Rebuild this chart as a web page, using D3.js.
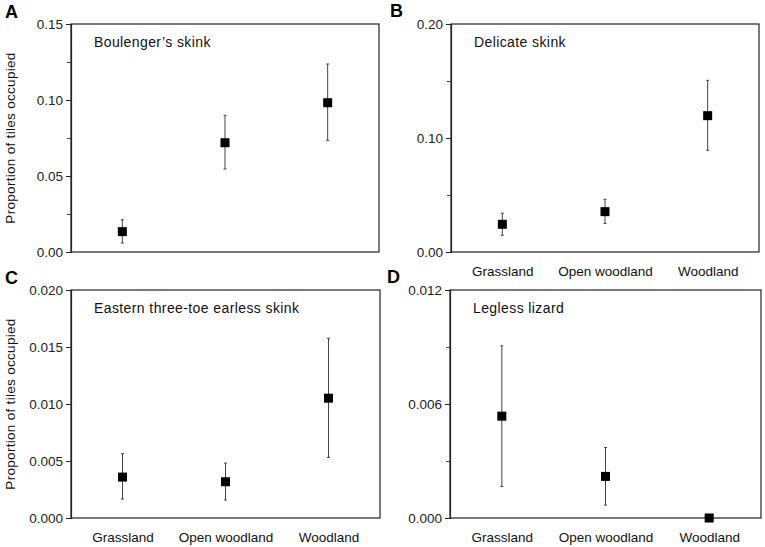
<!DOCTYPE html>
<html><head><meta charset="utf-8">
<script src="https://cdn.jsdelivr.net/npm/d3@7"></script>
<style>body{margin:0;background:#fff}svg{display:block}</style>
</head><body>
<script>
const categories = ["Grassland", "Open woodland", "Woodland"];
const panelLetters = ["A", "B", "C", "D"];
const speciesNames = ["Boulenger\u2019s skink", "Delicate skink", "Eastern three-toe earless skink", "Legless lizard"];
const meanA = [0.0134, 0.0719, 0.0982];
const lowA  = [0.0059, 0.0546, 0.0735];
const highA = [0.0212, 0.0899, 0.1237];
const meanB = [0.0243, 0.0354, 0.1196];
const lowB  = [0.0146, 0.0251, 0.0892];
const highB = [0.0340, 0.0462, 0.1506];
const meanC = [0.00359, 0.00318, 0.01051];
const lowC  = [0.00166, 0.00158, 0.00531];
const highC = [0.00564, 0.00482, 0.01577];
const meanD = [0.00536, 0.00219, 0.0];
const lowD  = [0.00166, 0.00068, 0.0];
const highD = [0.00906, 0.00371, 0.0];
const yMaxes = [0.15, 0.20, 0.020, 0.012];
const majorTicksA = [0, 0.05, 0.10, 0.15];
const majorTicksB = [0, 0.10, 0.20];
const majorTicksC = [0, 0.005, 0.010, 0.015, 0.020];
const majorTicksD = [0, 0.006, 0.012];
const minorTicksA = [0.025, 0.075, 0.125];
const minorTicksB = [0.05, 0.15];
const minorTicksC = [];
const minorTicksD = [0.003, 0.009];
const tickFormats = [".2f", ".2f", ".3f", ".3f"];
const yTitle = "Proportion of tiles occupied";

const panels = [
  {mean: meanA, low: lowA, high: highA, major: majorTicksA, minor: minorTicksA, x0: 71, x1: 379, y0: 24, y1: 252, showX: false, showTitle: true, lx: 5, ly: 18},
  {mean: meanB, low: lowB, high: highB, major: majorTicksB, minor: minorTicksB, x0: 451, x1: 759, y0: 24, y1: 252, showX: true, showTitle: false, lx: 390, ly: 17},
  {mean: meanC, low: lowC, high: highC, major: majorTicksC, minor: minorTicksC, x0: 71, x1: 380, y0: 290, y1: 518, showX: true, showTitle: true, lx: 5, ly: 284},
  {mean: meanD, low: lowD, high: highD, major: majorTicksD, minor: minorTicksD, x0: 450, x1: 761, y0: 290, y1: 518, showX: true, showTitle: false, lx: 387, ly: 283}
];

const svg = d3.select("body").append("svg").attr("width", 765).attr("height", 547)
  .style("font-family", "Arial, 'Liberation Sans', sans-serif");

panels.forEach((p, i) => {
  const x = d3.scalePoint().domain(categories).range([p.x0, p.x1]).padding(0.5);
  const y = d3.scaleLinear().domain([0, yMaxes[i]]).range([p.y1, p.y0]);
  const g = svg.append("g");

  // frame
  g.append("rect").attr("x", p.x0).attr("y", p.y0).attr("width", p.x1 - p.x0).attr("height", p.y1 - p.y0)
    .attr("fill", "none").attr("stroke", "#222").attr("stroke-width", 1.2);

  // y axis
  const ax = g.append("g").attr("transform", `translate(${p.x0},0)`)
    .call(d3.axisLeft(y).tickValues(p.major).tickFormat(d3.format(tickFormats[i])).tickSize(5).tickPadding(3));
  ax.select(".domain").attr("stroke", "#222").attr("stroke-width", 1.2);
  ax.selectAll(".tick line").attr("stroke", "#222");
  ax.selectAll(".tick text").attr("font-size", 13.5).attr("fill", "#222").attr("font-family", "Arial, 'Liberation Sans', sans-serif");
  const mx = g.append("g").attr("transform", `translate(${p.x0},0)`)
    .call(d3.axisLeft(y).tickValues(p.minor).tickFormat("").tickSize(4));
  mx.select(".domain").remove();
  mx.selectAll(".tick line").attr("stroke", "#444");

  // x labels
  if (p.showX) {
    const xa = g.append("g").attr("transform", `translate(0,${p.y1})`)
      .call(d3.axisBottom(x).tickSize(0).tickPadding(14));
    xa.select(".domain").remove();
    xa.selectAll(".tick text").attr("font-size", 13.5).attr("fill", "#111").attr("font-family", "Arial, 'Liberation Sans', sans-serif");
  }

  // error bars
  const idx = d3.range(categories.length);
  g.selectAll(".eb").data(idx).join("line")
    .attr("x1", d => x(categories[d])).attr("x2", d => x(categories[d]))
    .attr("y1", d => y(p.low[d])).attr("y2", d => y(p.high[d]))
    .attr("stroke", "#444").attr("stroke-width", 1);
  [p.low, p.high].forEach(arr => {
    g.selectAll(null).data(idx.filter(d => p.high[d] > p.low[d])).join("line")
      .attr("x1", d => x(categories[d]) - 1.5).attr("x2", d => x(categories[d]) + 1.5)
      .attr("y1", d => y(arr[d])).attr("y2", d => y(arr[d]))
      .attr("stroke", "#444").attr("stroke-width", 1);
  });

  // markers
  g.selectAll(".pt").data(idx).join("rect")
    .attr("x", d => x(categories[d]) - 4.5).attr("y", d => y(p.mean[d]) - 4.5)
    .attr("width", 9).attr("height", 9).attr("fill", "#000");

  // species label
  g.append("text").attr("x", p.x0 + 23).attr("y", p.y0 + 23)
    .attr("font-size", 14).attr("fill", "#111").style("letter-spacing", "0.4px").text(speciesNames[i]);

  // panel letter
  svg.append("text").attr("x", p.lx).attr("y", p.ly).attr("font-size", 18).attr("font-weight", "bold")
    .attr("fill", "#000").text(panelLetters[i]);

  if (p.showTitle) {
    const cy = (p.y0 + p.y1) / 2;
    svg.append("text").attr("transform", `translate(15,${cy}) rotate(-90)`).attr("text-anchor", "middle")
      .attr("font-size", 13.5).attr("fill", "#111").style("letter-spacing", "0.3px").text(yTitle);
  }
});
</script>
</body></html>
